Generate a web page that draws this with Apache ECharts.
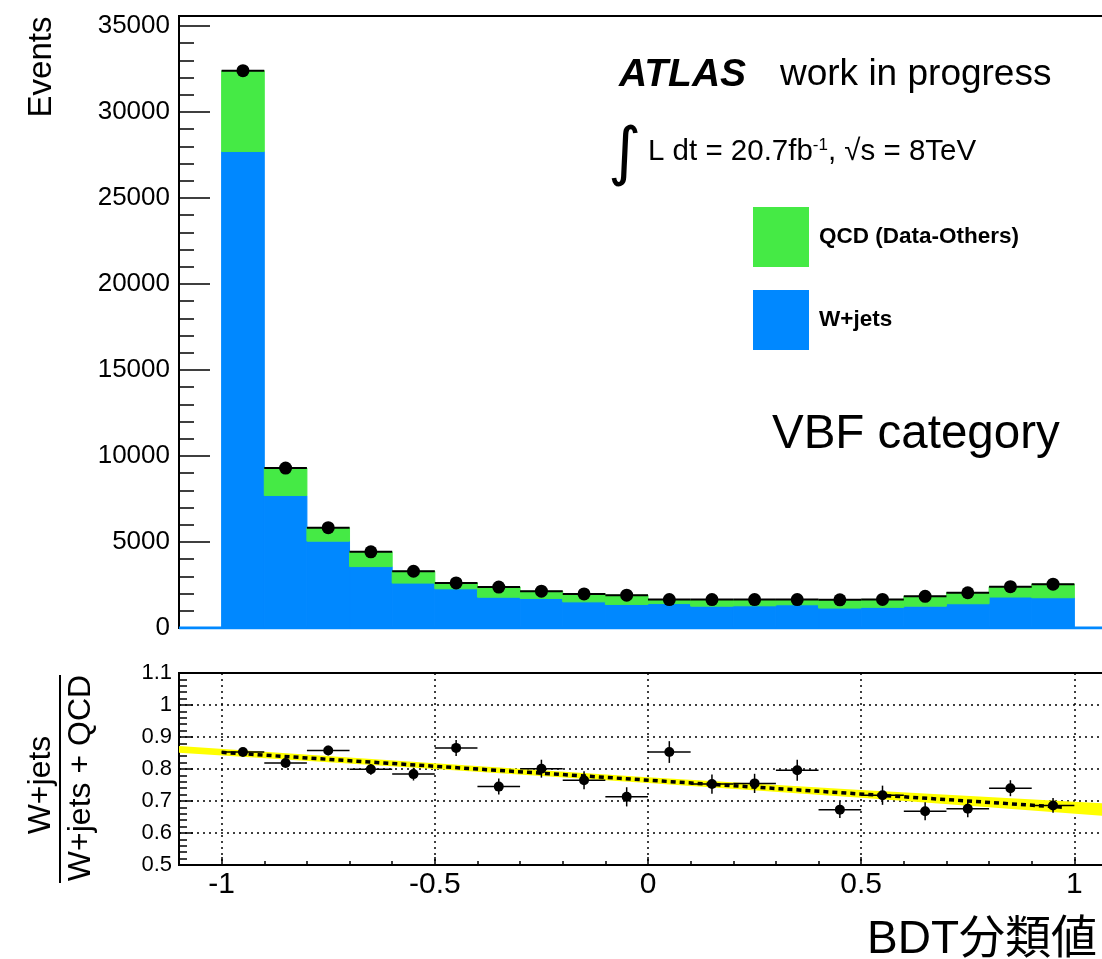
<!DOCTYPE html>
<html>
<head>
<meta charset="utf-8">
<script src="https://cdn.jsdelivr.net/npm/echarts@6/dist/echarts.min.js"></script>
<style>
  html, body { margin: 0; padding: 0; background: #fff; }
  #chart { width: 1102px; height: 959px; }
</style>
</head>
<body>
<div id="chart"></div>
<script>
// BDT bins (-1 .. 1, width 0.1)
var binCenters = [-0.95, -0.85, -0.75, -0.65, -0.55, -0.45, -0.35, -0.25, -0.15, -0.05,
                  0.05, 0.15, 0.25, 0.35, 0.45, 0.55, 0.65, 0.75, 0.85, 0.95];
var binHalfWidth = 0.05;

// upper pad: stacked histograms + data
var wjetsEvents = [27700, 7700, 5050, 3570, 2610, 2280, 1790, 1720, 1520, 1370,
                   1420, 1270, 1290, 1350, 1160, 1200, 1270, 1410, 1800, 1760];
var qcdEvents = [4700, 1600, 780, 860, 690, 340, 590, 420, 460, 540,
                 230, 380, 360, 300, 480, 460, 570, 640, 600, 790];
var dataEvents = [32400, 9300, 5830, 4430, 3300, 2620, 2380, 2140, 1980, 1910,
                  1650, 1650, 1650, 1650, 1640, 1660, 1840, 2050, 2400, 2550];

// lower pad: W+jets / (W+jets + QCD)
var ratioValues = [0.853, 0.819, 0.858, 0.799, 0.784, 0.866, 0.745, 0.801, 0.765, 0.713,
                   0.853, 0.753, 0.755, 0.796, 0.673, 0.718, 0.668, 0.676, 0.740, 0.686];
var ratioErrors = [0.006, 0.012, 0.015, 0.017, 0.02, 0.025, 0.025, 0.028, 0.028, 0.03,
                   0.034, 0.03, 0.03, 0.033, 0.026, 0.03, 0.028, 0.027, 0.025, 0.023];

// linear fit and its error band
var fitLineX = [-1, 0.98];
var fitLineY = [0.852, 0.680];
var bandX = [-1.1, -0.5, 0, 0.5, 1.1];
var bandLow = [0.851, 0.800, 0.756, 0.710, 0.650];
var bandHigh = [0.872, 0.818, 0.774, 0.734, 0.690];

var xTicksMajor = [-1, -0.5, 0, 0.5, 1];

var FONT = "'Liberation Sans', Arial, 'Noto Sans CJK JP', sans-serif";
var GREEN = '#45ea45';
var BLUE = '#0088ff';

function zip(a, b) {
    return a.map(function(v, i){ return [v, b[i]]; });
}

function plain(v) {
    return String(v);
}

function histRect(params, api, lo, hi, color) {
    var c = api.value(0);
    var p1 = api.coord([c - binHalfWidth, hi]);
    var p0 = api.coord([c + binHalfWidth, lo]);
    return {
        type: 'rect',
        shape: { x: p1[0], y: p1[1], width: p0[0] - p1[0], height: p0[1] - p1[1] },
        style: { fill: color, stroke: color, lineWidth: 1 }
    };
}

function tickAxis(grid, min, max, interval, len) {
    return {
        gridIndex: grid, type: 'value', min: min, max: max, interval: interval,
        axisLine: { show: false, onZero: false },
        axisTick: { inside: true, length: len, lineStyle: { color: '#000', width: 1.5 } },
        axisLabel: { show: false },
        splitLine: { show: false }
    };
}

var xMinor = tickAxis(1, -1.1, 1.1, 0.1, 4);
xMinor.position = 'bottom';

var yMinorTop = tickAxis(0, 0, 35580, 1000, 15);
yMinorTop.position = 'left';

var yMinorBottom = tickAxis(1, 0.5, 1.1, 0.02, 8);
yMinorBottom.position = 'left';

var option = {
    animation: false,
    backgroundColor: '#fff',
    textStyle: { fontFamily: FONT },
    grid: [
        { left: 179, top: 16, width: 938, height: 612, outerBoundsMode: 'none', containLabel: false,
          show: true, borderColor: '#000', borderWidth: 2 },
        { left: 179, top: 673, width: 938, height: 192, outerBoundsMode: 'none', containLabel: false,
          show: true, borderColor: '#000', borderWidth: 2 }
    ],
    legend: {
        orient: 'vertical',
        left: 753,
        top: 207,
        padding: 0,
        itemWidth: 56,
        itemHeight: 60,
        itemGap: 23,
        icon: 'rect',
        data: ['QCD (Data-Others)', 'W+jets'],
        textStyle: { fontSize: 22.5, fontWeight: 'bold', color: '#000', fontFamily: FONT, padding: [0, 0, 0, 5] }
    },
    xAxis: [
        { gridIndex: 0, type: 'value', min: -1.1, max: 1.1, position: 'bottom',
          axisLine: { show: false, onZero: false }, axisTick: { show: false }, axisLabel: { show: false }, splitLine: { show: false } },
        xMinor,
        { gridIndex: 1, type: 'value', min: -1.1, max: 1.1, position: 'bottom',
          axisLine: { show: false, onZero: false },
          axisTick: { inside: true, length: 8, customValues: xTicksMajor, lineStyle: { color: '#000', width: 1.5 } },
          axisLabel: { customValues: xTicksMajor, fontSize: 30, color: '#000', margin: 5, fontFamily: FONT, formatter: plain },
          splitLine: { show: true, lineStyle: { color: '#000', width: 1.5, type: [2, 4] } } }
    ],
    yAxis: [
        { gridIndex: 0, type: 'value', min: 0, max: 35580, interval: 5000, position: 'left',
          axisLine: { show: false, onZero: false },
          axisTick: { inside: true, length: 31, lineStyle: { color: '#000', width: 1.5 } },
          axisLabel: { fontSize: 26, color: '#000', margin: 9, showMaxLabel: false, fontFamily: FONT, formatter: plain },
          splitLine: { show: false } },
        yMinorTop,
        { gridIndex: 1, type: 'value', min: 0.5, max: 1.1, interval: 0.1, position: 'left',
          axisLine: { show: false, onZero: false },
          axisTick: { inside: true, length: 14, lineStyle: { color: '#000', width: 1.5 } },
          axisLabel: { fontSize: 22, color: '#000', margin: 7, fontFamily: FONT, formatter: plain },
          splitLine: { show: true, lineStyle: { color: '#000', width: 1.5, type: [2, 4] } } },
        yMinorBottom
    ],
    series: [
        {
            // W+jets histogram line at zero outside the filled range
            name: 'wjets-zero',
            type: 'line',
            xAxisIndex: 0, yAxisIndex: 0,
            data: [[-1.1, 0], [1.1, 0]],
            symbol: 'none',
            lineStyle: { color: BLUE, width: 3 },
            z: 3,
            silent: true
        },
        {
            name: 'W+jets',
            type: 'custom',
            xAxisIndex: 0, yAxisIndex: 0,
            itemStyle: { color: BLUE },
            data: zip(binCenters, wjetsEvents),
            renderItem: function(params, api){
                return histRect(params, api, 0, api.value(1), BLUE);
            },
            z: 4
        },
        {
            name: 'QCD (Data-Others)',
            type: 'custom',
            xAxisIndex: 0, yAxisIndex: 0,
            itemStyle: { color: GREEN },
            data: binCenters.map(function(c, i){ return [c, wjetsEvents[i], qcdEvents[i]]; }),
            renderItem: function(params, api){
                var base = api.value(1);
                return histRect(params, api, base, base + api.value(2), GREEN);
            },
            z: 4
        },
        {
            name: 'Data',
            type: 'custom',
            xAxisIndex: 0, yAxisIndex: 0,
            itemStyle: { color: '#000' },
            data: zip(binCenters, dataEvents),
            renderItem: function(params, api){
                var c = api.value(0), v = api.value(1);
                var pl = api.coord([c - binHalfWidth, v]);
                var pr = api.coord([c + binHalfWidth, v]);
                var pc = api.coord([c, v]);
                return {
                    type: 'group',
                    children: [
                        { type: 'line', shape: { x1: pl[0], y1: pl[1], x2: pr[0], y2: pr[1] },
                          style: { stroke: '#000', lineWidth: 2 } },
                        { type: 'circle', shape: { cx: pc[0], cy: pc[1], r: 6.5 }, style: { fill: '#000' } }
                    ]
                };
            },
            z: 6
        },
        {
            name: 'fit band',
            type: 'custom',
            xAxisIndex: 2, yAxisIndex: 2,
            data: [[0, 0]],
            renderItem: function(params, api){
                var pts = [];
                bandX.forEach(function(x, i){ pts.push(api.coord([x, bandHigh[i]])); });
                for (var i = bandX.length - 1; i >= 0; i--) {
                    pts.push(api.coord([bandX[i], bandLow[i]]));
                }
                return { type: 'polygon', shape: { points: pts }, style: { fill: '#ffff00' } };
            },
            clip: true,
            z: 3
        },
        {
            name: 'fit',
            type: 'line',
            xAxisIndex: 2, yAxisIndex: 2,
            data: zip(fitLineX, fitLineY),
            symbol: 'none',
            lineStyle: { color: '#000', width: 3.5, type: [5, 4] },
            z: 4
        },
        {
            name: 'ratio',
            type: 'custom',
            xAxisIndex: 2, yAxisIndex: 2,
            data: binCenters.map(function(c, i){ return [c, ratioValues[i], ratioErrors[i]]; }),
            renderItem: function(params, api){
                var c = api.value(0), v = api.value(1), e = api.value(2);
                var pl = api.coord([c - binHalfWidth, v]);
                var pr = api.coord([c + binHalfWidth, v]);
                var pt = api.coord([c, v + e]);
                var pb = api.coord([c, v - e]);
                var pc = api.coord([c, v]);
                return {
                    type: 'group',
                    children: [
                        { type: 'line', shape: { x1: pl[0], y1: pl[1], x2: pr[0], y2: pr[1] },
                          style: { stroke: '#000', lineWidth: 1.5 } },
                        { type: 'line', shape: { x1: pt[0], y1: pt[1], x2: pb[0], y2: pb[1] },
                          style: { stroke: '#000', lineWidth: 1.5 } },
                        { type: 'circle', shape: { cx: pc[0], cy: pc[1], r: 5 }, style: { fill: '#000' } }
                    ]
                };
            },
            z: 6
        }
    ],
    graphic: [
        { type: 'text', x: 42, y: 67, rotation: Math.PI / 2,
          style: { text: 'Events', fontSize: 33, fontFamily: FONT, fill: '#000', align: 'center', verticalAlign: 'middle' } },
        { type: 'text', x: 41, y: 785, rotation: Math.PI / 2,
          style: { text: 'W+jets', fontSize: 32, fontFamily: FONT, fill: '#000', align: 'center', verticalAlign: 'middle' } },
        { type: 'line', shape: { x1: 60, y1: 675, x2: 60, y2: 883 }, style: { stroke: '#000', lineWidth: 2 } },
        { type: 'text', x: 81, y: 778, rotation: Math.PI / 2,
          style: { text: 'W+jets + QCD', fontSize: 32, fontFamily: FONT, fill: '#000', align: 'center', verticalAlign: 'middle' } },
        { type: 'text', x: 619, y: 75,
          style: { text: 'ATLAS', fontSize: 39, fontWeight: 'bold', fontStyle: 'italic', fontFamily: FONT, fill: '#000', verticalAlign: 'middle' } },
        { type: 'text', x: 780, y: 75,
          style: { text: 'work in progress', fontSize: 37, fontFamily: FONT, fill: '#000', verticalAlign: 'middle' } },
        { type: 'text', x: 608, y: 156,
          style: { text: '\u222B', fontSize: 64, fontFamily: "'DejaVu Sans', sans-serif", fill: '#000', verticalAlign: 'middle' } },
        { type: 'text', x: 648, y: 152,
          style: {
              text: '{m|L dt = 20.7fb}{s|-1}{m|, \u221As = 8TeV}',
              verticalAlign: 'middle',
              rich: {
                  m: { fontSize: 29.5, fontFamily: FONT, fill: '#000' },
                  s: { fontSize: 17, fontFamily: FONT, fill: '#000', verticalAlign: 'top' }
              }
          } },
        { type: 'text', x: 772, y: 435,
          style: { text: 'VBF category', fontSize: 47.5, fontFamily: FONT, fill: '#000', verticalAlign: 'middle' } },
        { type: 'text', x: 1097, y: 940,
          style: { text: 'BDT分類値', fontSize: 46, fontFamily: FONT, fill: '#000', align: 'right', verticalAlign: 'middle' } }
    ]
};

var myChart = echarts.init(document.getElementById('chart'));
myChart.setOption(option);
</script>
</body>
</html>
